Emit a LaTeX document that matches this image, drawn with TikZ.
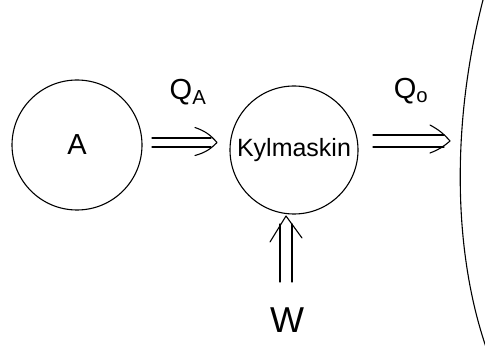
\documentclass[tikz,border=0pt]{standalone}
\usepackage{fontspec}
\setmainfont{Liberation Sans}
\usetikzlibrary{calc}
\begin{document}
\begin{tikzpicture}[x=1pt,y=-1pt,
  body/.style={draw,circle,line width=1.1pt,inner sep=0pt},
  pen/.style={line width=1.1pt,line cap=round,line join=round},
  lbl/.style={font=\fontsize{29}{31}\selectfont}]
\useasboundingbox (0,0) rectangle (485,350);
\node[body,minimum size=130pt] (A) at (77,145) {};
\node[lbl] at (A.center) {A};
\node[body,minimum size=128pt] (K) at (294,150) {};
\node[font=\fontsize{25}{27}\selectfont] at (K.center) {Kylmaskin};
\coordinate (top) at (483,0);
\coordinate (bot) at (487,350);
\draw[pen] (top) .. controls (452,120) and (452,250) .. (bot);
% A -> Kylmaskin
\coordinate (a1) at (152,142.5);
\coordinate (a2) at (217,142.5);
\draw[pen] ($(a1)+(0,-4.5)$) -- ($(a2)+(-6,-4.5)$);
\draw[pen] ($(a1)+(0,4.5)$) -- ($(a2)+(-6,4.5)$);
\draw[pen] ($(a2)+(-22,-15)$) to[bend left=15] (a2) to[bend left=15] ($(a2)+(-22,13)$);
\node[lbl] (QA) at (188,92) {Q\textsubscript{A}};
% Kylmaskin -> wall
\coordinate (b1) at (373,141);
\coordinate (b2) at (450,141);
\draw[pen] ($(b1)+(0,-6)$) -- ($(b2)+(-6,-6)$);
\draw[pen] ($(b1)+(0,6)$) -- ($(b2)+(-6,6)$);
\draw[pen] ($(b2)+(-20,-16)$) to[bend left=10] (b2) to[bend left=10] ($(b2)+(-20,12)$);
\node[lbl] (QO) at (411,91) {Q\textsubscript{o}};
% W -> Kylmaskin
\coordinate (w1) at (286,282);
\coordinate (w2) at (286,216);
\draw[pen] ($(w1)+(-6,0)$) -- ($(w2)+(-6,8)$);
\draw[pen] ($(w1)+(6,0)$) -- ($(w2)+(6,8)$);
\draw[pen] ($(w2)+(-16,26)$) -- (w2) -- ($(w2)+(16,22)$);
\node[font=\fontsize{36}{36}\selectfont] (W) at (287,320) {W};
\end{tikzpicture}
\end{document}
